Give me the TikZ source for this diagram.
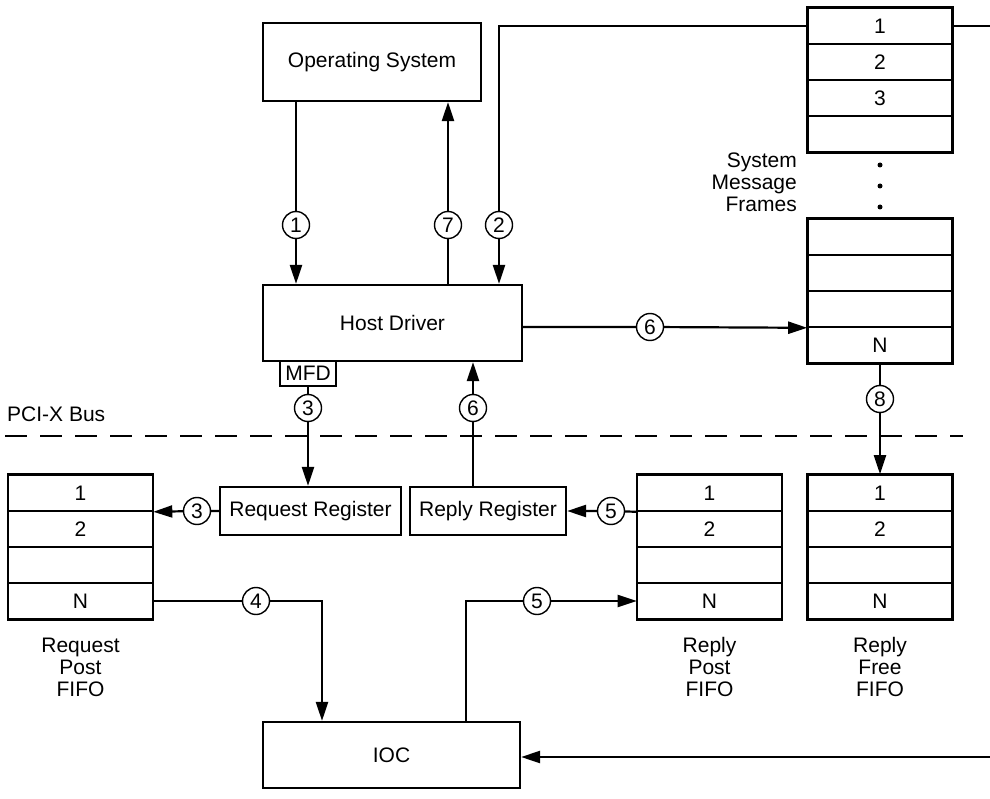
\documentclass[tikz,border=0pt]{standalone}
\usepackage{fontspec}
\setmainfont{Liberation Sans}
\usetikzlibrary{arrows.meta}
\begin{document}
\begin{tikzpicture}[x=1pt,y=-1pt,
  every node/.style={font=\fontsize{21}{22}\selectfont},
  box/.style={draw,line width=2.2pt,inner sep=0pt,anchor=center},
  cellbox/.style={draw,line width=1.6pt,inner sep=0pt,minimum width=144pt,minimum height=36pt,anchor=center},
  outer/.style={line width=2.2pt},
  circ/.style={circle,draw,line width=1.4pt,minimum size=27pt,inner sep=0pt,fill=white},
  conn/.style={line width=2.2pt},
  arr/.style={line width=2.2pt,-{Triangle[length=19pt,width=12pt]}},
  lbl/.style={align=center,inner sep=0pt},
  dot/.style={circle,fill=black,inner sep=0pt,minimum size=5pt}
]
\useasboundingbox (0,0) rectangle (990,799);

% main boxes
\node[box,minimum width=218pt,minimum height=78pt] (os) at (372,62) {Operating System};
\node[box,minimum width=259pt,minimum height=76pt] (host) at (392.5,323) {Host Driver};
\node[box,minimum width=257pt,minimum height=66pt] (ioc) at (391.5,755) {IOC};
\node[box,minimum width=181pt,minimum height=48pt] (rr) at (310.5,511) {Request Register};
\node[box,minimum width=156pt,minimum height=48pt] (rpl) at (488,511) {Reply Register};
\node[box,line width=1.6pt,minimum width=56pt,minimum height=25pt] (mfd) at (308,373.5) {MFD};

% system message frames (top)
\node[cellbox] (f1) at (880,26) {1};
\node[cellbox] (f2) at (880,62) {2};
\node[cellbox] (f3) at (880,98) {3};
\node[cellbox] (f4) at (880,134) {};
\draw[outer] (f1.north west) rectangle (f4.south east);
\node[dot] (d1) at (880,165) {};
\node[dot] (d2) at (880,186) {};
\node[dot] (d3) at (880,207) {};
\node[lbl,anchor=east,align=right] (smf) at (797,182) {System\\Message\\Frames};

% system message frames (bottom)
\node[cellbox] (sf1) at (880,237) {};
\node[cellbox] (sf2) at (880,273) {};
\node[cellbox] (sf3) at (880,309) {};
\node[cellbox] (sf4) at (880,345) {N};
\draw[outer] (sf1.north west) rectangle (sf4.south east);

% request post FIFO
\node[cellbox] (rq1) at (80.5,493) {1};
\node[cellbox] (rq2) at (80.5,529) {2};
\node[cellbox] (rq3) at (80.5,565) {};
\node[cellbox] (rq4) at (80.5,601) {N};
\draw[outer] (rq1.north west) rectangle (rq4.south east);
\node[lbl] (rqlab) at (80.5,667) {Request\\Post\\FIFO};

% reply post FIFO
\node[cellbox] (rp1) at (709.5,493) {1};
\node[cellbox] (rp2) at (709.5,529) {2};
\node[cellbox] (rp3) at (709.5,565) {};
\node[cellbox] (rp4) at (709.5,601) {N};
\draw[outer] (rp1.north west) rectangle (rp4.south east);
\node[lbl] (rplab) at (709.5,667) {Reply\\Post\\FIFO};

% reply free FIFO
\node[cellbox] (fr1) at (880,493) {1};
\node[cellbox] (fr2) at (880,529) {2};
\node[cellbox] (fr3) at (880,565) {};
\node[cellbox] (fr4) at (880,601) {N};
\draw[outer] (fr1.north west) rectangle (fr4.south east);
\node[lbl] (frlab) at (880,667) {Reply\\Free\\FIFO};

% bus
\node[anchor=west,inner sep=0pt] (bus) at (7,414) {PCI-X Bus};
\coordinate (busl) at (5,436);
\coordinate (busr) at (963,436);
\draw[line width=2.2pt,dash pattern=on 22pt off 13pt] (busl) -- (busr);

% step circles
\node[circ] (n1) at (296,225) {1};
\node[circ] (n7) at (448,225) {7};
\node[circ] (n2) at (499,225) {2};
\node[circ] (n3a) at (308,408) {3};
\node[circ] (n6a) at (473,408) {6};
\node[circ] (n6b) at (650,327) {6};
\node[circ] (n8) at (880,399) {8};
\node[circ] (n3b) at (197,511) {3};
\node[circ] (n5a) at (611,511) {5};
\node[circ] (n4) at (256,601) {4};
\node[circ] (n5b) at (537,601) {5};

\coordinate (k4) at (322,601);
\coordinate (k5) at (466,601);
\coordinate (rtop) at (990,26);
\coordinate (rbot) at (990,757);

% connectors
\draw[arr] (os.south -| n1) -- (n1) -- (host.north -| n1);
\draw[arr] (host.north -| n7) -- (n7) -- (os.south -| n7);
\draw[arr] (f1.west) -- (f1.west -| n2) -- (n2) -- (host.north -| n2);
\draw[conn] (f1.east) -- (rtop);
\draw[arr] (rbot) -- (ioc.east |- rbot);
\draw[arr] (host.east |- n6b) -- (n6b) -- (sf3.south west);
\draw[arr] (sf4.south) -- (n8) -- (fr1.north);
\draw[arr] (mfd.south) -- (n3a) -- (rr.north -| n3a);
\draw[arr] (rpl.north -| n6a) -- (n6a) -- (host.south -| n6a);
\draw[arr] (rr.west) -- (n3b) -- (rq1.south east);
\draw[arr] (rp1.south west) -- (n5a) -- (rpl.east);
\draw[arr] (rq4.east) -- (n4) -- (k4) -- (ioc.north -| k4);
\draw[arr] (ioc.north -| k5) -- (k5) -- (n5b) -- (rp4.west);
\end{tikzpicture}
\end{document}
